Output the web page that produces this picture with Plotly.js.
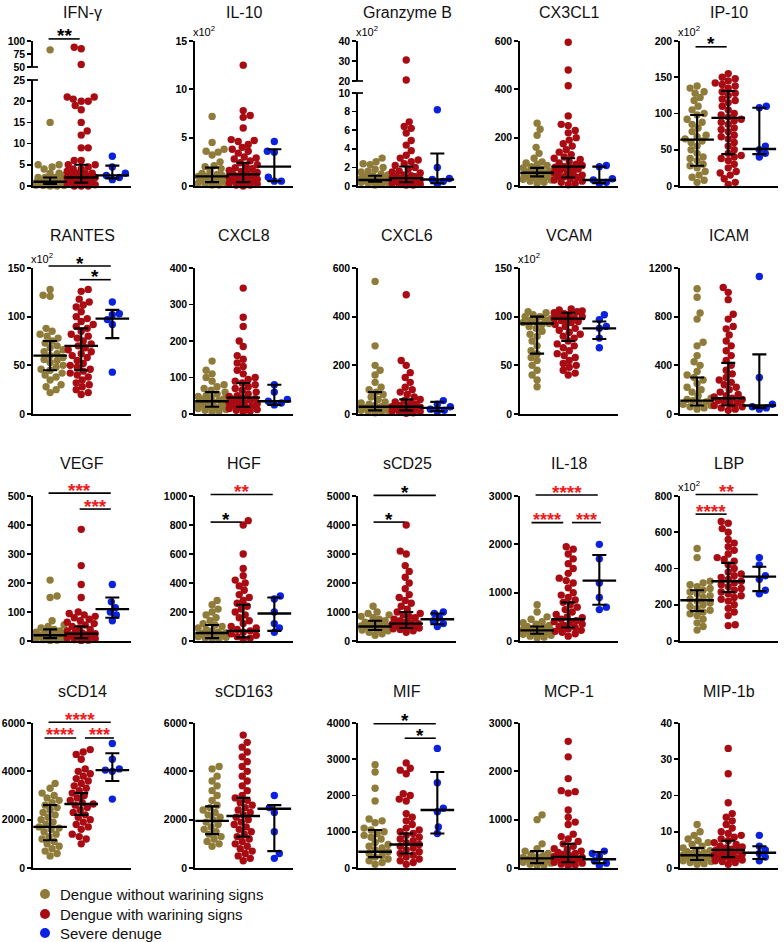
<!DOCTYPE html>
<html>
<head>
<meta charset="utf-8">
<script src="https://cdn.plot.ly/plotly-3.0.1.min.js"></script>
<style>body{margin:0;background:#fff}#chart{width:784px;height:942px}</style>
</head>
<body>
<div id="chart"></div>
<script>
var panels = ['IFN-γ', 'IL-10', 'Granzyme B', 'CX3CL1', 'IP-10',
              'RANTES', 'CXCL8', 'CXCL6', 'VCAM', 'ICAM',
              'VEGF', 'HGF', 'sCD25', 'IL-18', 'LBP',
              'sCD14', 'sCD163', 'MIF', 'MCP-1', 'MIP-1b'];
var groupNames = ['Dengue without warining signs', 'Dengue with warining signs', 'Severe denuge'];
var groupColors = ['#8f7c3a', '#a80b12', '#0a22e0'];

// values, one list per panel
var noWarning = [
  [83,15,5,5,4.5,4,3,3,2.5,2,2,2,1.5,1.5,1.2,1,1,1,1,0.8,0.8,0.6,0.5,0.5,0.4,0.3,0.3,0.2,0.1,0.1,0,0],
  [7.2,4.5,3.8,3.6,3.5,3.2,2.5,2.1,2.0,1.8,1.5,1.3,1.2,1.1,1.0,1.0,0.9,0.8,0.7,0.6,0.5,0.5,0.4,0.3,0.3,0.2,0.1,0.1],
  [3.0,2.6,2.4,2.3,2.0,1.8,1.6,1.5,1.3,1.2,1.1,1.0,0.9,0.9,0.8,0.8,0.7,0.7,0.6,0.6,0.5,0.5,0.4,0.4,0.3,0.3,0.2,0.1],
  [260,235,210,160,135,115,100,95,90,85,80,75,70,65,60,58,55,52,50,48,45,42,40,38,35,30,28,25,20,15,10],
  [138,135,130,128,122,118,110,105,100,98,92,88,85,80,75,70,68,65,62,60,55,50,45,40,38,35,30,28,25,20,15,12,8,5],
  [128,122,121,88,85,82,80,78,75,73,70,68,66,64,62,60,58,56,55,53,50,48,46,45,42,40,38,35,30,28,25,22],
  [145,120,110,100,90,80,75,70,65,60,55,50,48,45,42,40,38,35,33,30,28,25,22,20,18,15,12,10,8,5],
  [545,280,200,180,160,130,110,100,90,80,70,60,50,45,40,35,30,28,25,22,20,18,15,12,10,8,5],
  [105,104,102,100,100,98,97,96,95,94,93,92,90,88,85,82,80,75,70,65,62,58,55,50,45,40,35,28],
  [1030,960,830,780,590,560,480,430,400,350,320,300,280,250,220,200,180,150,130,120,110,100,90,80,70,60,50,40],
  [210,155,150,70,55,50,45,40,35,30,28,25,22,20,18,15,12,10,8,6,5,3,2],
  [280,250,220,200,180,160,140,120,110,100,90,80,70,60,55,50,45,40,35,30,25,20,15,10],
  [1200,1000,950,900,850,800,750,700,650,600,580,550,520,500,480,450,420,400,380,350,300,250,200],
  [750,600,500,450,400,380,350,320,300,280,260,250,240,220,200,180,160,150,140,120,100,80,60],
  [510,460,330,320,310,300,290,280,270,260,250,240,230,220,210,200,190,180,170,160,150,140,120,100,80,60],
  [3500,3300,3100,3000,2900,2800,2700,2600,2500,2400,2300,2200,2100,2000,1900,1800,1700,1650,1600,1500,1400,1300,1200,1100,1000,900,800,700,600,500],
  [4200,4100,3800,3600,3400,3200,3000,2800,2600,2500,2400,2300,2200,2100,2000,1900,1800,1700,1600,1500,1400,1300,1200,1100,1000,900],
  [2850,2650,2200,1850,1350,1300,1250,1100,1050,1000,950,900,850,800,700,650,600,550,500,450,400,350,300,250,200,150,100],
  [1100,1000,500,400,350,300,280,250,230,220,200,180,160,150,140,120,100,80,60,50],
  [12,10,9,8,7.5,7,6.5,6,5.5,5,4.8,4.5,4.2,4,3.8,3.5,3.2,3,2.8,2.5,2.2,2,1.8,1.5,1.2,1]
];
var withWarning = [
  [88,85,55,21,21,20.5,20,20,19,18,15,13,12,9,9,6,6,5,5,4.5,4,4,3.5,3,3,3,2.5,2,2,2,2,1.5,1.5,1,1,1,0.5,0.5,0.5,0.3,0,0,0],
  [12.5,7.8,7.3,7.1,6.0,4.8,4.7,4.6,4.3,4.0,3.8,3.6,3.4,3.0,2.9,2.8,2.6,2.4,2.2,2.0,1.9,1.8,1.6,1.5,1.4,1.3,1.2,1.1,1.0,1.0,0.9,0.8,0.7,0.6,0.5,0.5,0.4,0.3,0.2,0.1,0.1,0.0],
  [30.5,20.5,6.9,6.4,6.2,5.7,4.9,4.4,3.8,3.3,3.0,2.8,2.6,2.4,2.2,2.0,1.8,1.6,1.5,1.4,1.2,1.1,1.0,1.0,0.9,0.8,0.8,0.7,0.6,0.5,0.5,0.4,0.3,0.3,0.2,0.2,0.1,0.1],
  [595,480,415,290,255,250,230,220,200,190,175,165,150,140,130,120,115,110,100,95,90,85,80,78,75,70,65,60,55,50,45,40,38,35,30,25,20,15,10,5],
  [155,150,148,145,142,140,138,135,130,128,125,120,118,115,110,105,100,98,95,92,90,88,85,80,78,75,70,68,65,60,55,50,45,42,40,38,35,30,25,20,18,15,10,5,2],
  [128,126,118,115,112,110,105,100,98,95,92,90,88,85,82,80,78,75,72,70,68,66,64,62,60,58,55,52,50,48,46,44,42,40,38,35,32,30,28,25,22,20],
  [345,265,240,200,185,160,150,140,130,120,110,100,95,90,85,80,75,70,65,60,55,50,48,45,42,40,38,35,32,30,28,25,22,20,18,15,12,10,8,5],
  [490,220,200,170,150,130,110,100,90,80,70,60,55,50,45,40,35,32,30,28,25,22,20,18,15,12,10,8,5,3],
  [108,107,106,105,104,103,102,101,100,99,98,97,96,95,94,92,90,88,86,84,82,80,78,75,72,70,68,65,62,60,58,55,52,50,48,45,42,40],
  [1040,1000,940,820,780,720,700,650,600,560,520,480,440,400,360,330,300,280,260,240,220,200,180,160,150,140,130,120,110,100,90,80,70,60,50,40,30],
  [385,260,195,150,100,95,90,85,80,75,70,65,60,55,50,45,40,35,30,28,25,22,20,18,15,12,10,8,5,3,2],
  [830,800,600,500,450,420,400,380,350,320,300,280,260,240,220,200,180,160,140,120,100,90,80,70,60,50,40,30,20,10],
  [4000,3100,3000,2600,2400,2200,2000,1800,1600,1500,1400,1300,1200,1100,1000,950,900,850,800,750,700,650,620,600,580,550,520,500,480,450,420,400,350,300],
  [1950,1900,1800,1700,1600,1500,1400,1300,1250,1200,1100,1000,950,900,850,800,750,700,650,600,550,500,480,450,420,400,380,350,320,300,280,250,220,200,180,150,100],
  [660,650,620,600,560,540,520,500,480,460,450,440,420,400,380,370,360,350,340,330,320,310,300,290,280,270,260,250,240,230,220,200,180,160,140,90,85],
  [4900,4800,4700,4500,4100,4000,3900,3800,3700,3600,3500,3400,3300,3200,3100,3000,2900,2800,2700,2650,2600,2500,2400,2300,2200,2100,2000,1900,1800,1700,1600,1400,1300,1200,1000],
  [5500,5200,5000,4800,4600,4400,4200,4000,3800,3600,3400,3200,3000,2900,2800,2700,2600,2500,2400,2300,2200,2100,2000,1900,1800,1700,1600,1500,1400,1300,1200,1100,1000,900,800,700,600,500,400,300],
  [2900,2750,2700,2600,2050,2000,1900,1850,1500,1400,1300,1200,1100,1050,1000,950,900,850,800,750,700,650,600,550,500,450,400,350,300,250,200,150,100],
  [2620,2300,1850,1600,1580,1550,1200,1050,950,900,700,650,600,550,500,450,400,380,350,320,300,280,260,240,220,200,180,160,140,120,100,80,60,40],
  [33,26,18,15,14,13,12,11,10,9.5,9,8.5,8,7.5,7,6.5,6,5.8,5.5,5.2,5,4.8,4.5,4.2,4,3.8,3.5,3.2,3,2.8,2.5,2.2,2,1.8,1.5,1]
];
var severe = [
  [7,4.5,3,2.5,2,1.5],
  [4.6,3.6,3.5,0.9,0.5,0.5],
  [8.2,2.0,0.8,0.7,0.5,0.2],
  [85,80,30,25,15,10],
  [110,108,55,50,45,40],
  [115,103,102,97,92,43],
  [80,60,40,35,30,25],
  [55,40,30,20,15,10],
  [102,97,90,88,78,68],
  [1130,300,80,60,50,40],
  [195,135,115,100,90,70],
  [310,290,200,120,90,60],
  [1000,950,800,700,600,500],
  [2000,1700,1200,900,700,650],
  [460,420,360,340,280,260],
  [5150,4500,4100,4050,4000,2850],
  [3000,2500,2300,1500,600,400],
  [3300,2350,1650,1550,1130,950],
  [350,300,250,150,100,50],
  [9,6,5,4,3,2]
];
// median and interquartile range bars per panel: [group1, group2, group3]
var medians = [[1,2,2.5],[1.0,1.2,2.0],[0.65,0.85,0.7],[55,80,25],[64,94,51],
  [60,70,98],[35,45,35],[30,30,25],[93,98,88],[110,130,70],
  [20,25,110],[55,70,190],[500,600,750],[220,450,1250],[225,330,355],
  [1700,2650,4050],[1950,2150,2450],[450,650,1600],[200,230,180],[3.5,5,4.2]];
var lowerQ = [[0.5,0.8,1.8],[0.4,0.4,0.5],[0.45,0.4,0.3],[40,35,12],[28,44,44],
  [45,45,78],[20,20,25],[15,15,12],[62,75,77],[70,70,50],
  [10,10,80],[20,25,70],[380,450,580],[150,280,750],[165,270,275],
  [1150,2200,3600],[1400,1300,700],[300,400,950],[100,120,100],[2.2,3,2.5]];
var upperQ = [[2,5,4.8],[1.9,2.4,3.8],[1.1,2.1,3.5],[75,115,80],[98,131,108],
  [75,88,107],[60,85,80],[90,60,50],[100,104,95],[300,420,490],
  [40,50,150],[110,250,300],[700,1000,950],[300,800,1780],[280,430,410],
  [2600,3100,4750],[2550,2900,2600],[1050,950,2650],[350,500,330],[5.5,7.5,6]];

var yTop = [100,15,40,600,200, 150,400,600,150,1200, 500,1000,5000,3000,800, 6000,6000,4000,3000,40];
var yStep = [25,5,10,200,50, 50,100,200,50,400, 100,200,1000,1000,200, 2000,2000,1000,1000,10];
var times100 = [0,1,1,0,1, 1,0,0,1,0, 0,0,0,0,1, 0,0,0,0,0];

// significance bars: [panel, from group, to group, level, label, red]
var sigBars = [
  [0,1,2,104,'**',0], [4,1,2,192,'*',0],
  [5,1,3,152,'*',0], [5,2,3,138,'*',0],
  [10,1,3,510,'***',1], [10,2,3,455,'***',1],
  [11,1,3,1010,'**',1], [11,1,2,820,'*',0],
  [12,1,3,5020,'*',0], [12,1,2,4100,'*',0],
  [13,1,3,3020,'****',1], [13,1,2,2450,'****',1], [13,2,3,2450,'***',1],
  [14,1,3,808,'**',1], [14,1,2,700,'****',1],
  [15,1,3,6030,'****',1], [15,1,2,5380,'****',1], [15,2,3,5380,'***',1],
  [17,1,3,3980,'*',0], [17,2,3,3580,'*',0]
];

// broken axes (IFN-γ, Granzyme B)
var broken = {
  0: {low: [0, 25], high: [50, 100], lowTicks: [0,5,10,15,20,25], highTicks: [50,75,100], lowTopPx: 80, highBotPx: 67, upper: 21},
  2: {low: [0, 10], high: [20, 40], lowTicks: [0,2,4,6,8,10], highTicks: [20,30,40], lowTopPx: 93, highBotPx: 81, upper: 22}
};

var W = 784, H = 942;
var COLS = [33, 195, 358, 520, 680];
var ROW_TOP = [41, 268, 496, 723];
var ROW_BOT = [186, 414, 641, 868];
var TITLE_Y = [13, 236, 463, 691];
var LEGEND_Y = [894, 914, 933];
var PW = 98, XR = [0.45, 3.6];
var PX_X = PW / (XR[1] - XR[0]);
var FONT = 'Liberation Sans, Arial, sans-serif';

function range(a, b, s) { var r = []; for (var v = a; v <= b + 1e-9; v += s) r.push(v); return r; }

function segments(p) {
  var row = Math.floor(p / 5);
  var b = broken[p];
  if (!b) return [{ax: p + 1, r: [0, yTop[p]], bot: ROW_BOT[row], top: ROW_TOP[row], ticks: range(0, yTop[p], yStep[p])}];
  return [
    {ax: p + 1, r: b.low, bot: ROW_BOT[row], top: b.lowTopPx, ticks: b.lowTicks},
    {ax: b.upper, r: b.high, bot: b.highBotPx, top: ROW_TOP[row], ticks: b.highTicks}
  ];
}
function segFor(segs, v) { return (segs.length > 1 && v > segs[0].r[1]) ? segs[1] : segs[0]; }
function toPx(segs, v) {
  var s = segFor(segs, v);
  return s.bot - (v - s.r[0]) / (s.r[1] - s.r[0]) * (s.bot - s.top);
}

function swarm(py, d, maxOff) {
  var order = py.map(function (v, i) { return i; }).sort(function (a, b) { return py[b] - py[a]; });
  var off = [], done = [];
  order.forEach(function (i, n) {
    var chosen = null, bestScore = -1, bestO = 0;
    var sgn = n % 2 ? 1 : -1;
    for (var k = 0; k <= maxOff && chosen === null; k++) {
      var cands = k === 0 ? [0] : [sgn * k, -sgn * k];
      for (var c = 0; c < cands.length; c++) {
        var o = cands[c], minD = Infinity;
        for (var j = 0; j < done.length; j++) {
          var dy = py[i] - py[done[j]], dx = o - off[done[j]];
          var dist = Math.sqrt(dx * dx + dy * dy);
          if (dist < minD) minD = dist;
        }
        if (minD >= d) { chosen = o; break; }
        if (minD > bestScore) { bestScore = minD; bestO = o; }
      }
    }
    off[i] = chosen !== null ? chosen : bestO;
    done.push(i);
  });
  return off;
}

var data = [];
var layout = {
  width: W, height: H,
  margin: {l: 0, r: 0, t: 0, b: 0, autoexpand: false},
  paper_bgcolor: '#fff', plot_bgcolor: 'rgba(0,0,0,0)',
  showlegend: false,
  shapes: [], annotations: []
};

var axisStyle = {
  showline: true, linecolor: '#000', linewidth: 1.7, showgrid: false, zeroline: false,
  ticks: 'outside', ticklen: 4, tickwidth: 1.7, tickcolor: '#000', fixedrange: true,
  tickfont: {family: FONT, size: 10.5, weight: 'bold', color: '#000'}
};

var groups = [noWarning, withWarning, severe];

panels.forEach(function (name, p) {
  var row = Math.floor(p / 5), col = p % 5;
  var segs = segments(p);
  var xa = 'x' + (p + 1);
  layout['xaxis' + (p + 1)] = {
    domain: [COLS[col] / W, (COLS[col] + PW) / W], range: XR, anchor: 'y' + (p + 1),
    showline: true, linecolor: '#000', linewidth: 1.7, showgrid: false, zeroline: false,
    showticklabels: false, ticks: '', fixedrange: true
  };
  segs.forEach(function (s) {
    var ax = Object.assign({}, axisStyle, {
      domain: [1 - s.bot / H, 1 - s.top / H], range: s.r, anchor: xa,
      tickmode: 'array', tickvals: s.ticks, ticktext: s.ticks.map(String)
    });
    layout['yaxis' + s.ax] = ax;
  });

  groups.forEach(function (grp, g) {
    var vals = grp[p];
    var py = vals.map(function (v) { return toPx(segs, v); });
    var off = swarm(py, 6.6, 14);
    segs.forEach(function (s) {
      var xs = [], ys = [];
      vals.forEach(function (v, i) {
        if (segFor(segs, v) === s) { xs.push(g + 1 + off[i] / PX_X); ys.push(v); }
      });
      data.push({
        type: 'scatter', mode: 'markers', x: xs, y: ys,
        xaxis: xa, yaxis: 'y' + s.ax, cliponaxis: false,
        name: groupNames[g],
        marker: {color: groupColors[g], size: 7.4, line: {width: 0}},
        hoverinfo: 'skip'
      });
    });
  });

  var med = medians[p];
  data.push({
    type: 'scatter', mode: 'markers', x: [1, 2, 3], y: med,
    xaxis: xa, yaxis: 'y' + (p + 1), cliponaxis: false, hoverinfo: 'skip',
    marker: {symbol: 'line-ew-open', size: 24, color: '#000', line: {width: 2.4, color: '#000'}},
    error_y: {type: 'data', symmetric: false,
      array: upperQ[p].map(function (v, i) { return v - med[i]; }),
      arrayminus: lowerQ[p].map(function (v, i) { return med[i] - v; }),
      color: '#000', thickness: 2.1, width: 7}
  });

  // title
  layout.annotations.push({
    xref: 'paper', yref: 'paper', x: (COLS[col] + PW / 2) / W, y: 1 - TITLE_Y[row] / H,
    text: name, showarrow: false, xanchor: 'center', yanchor: 'middle',
    font: {family: FONT, size: 16, color: '#111'}
  });
  if (times100[p]) {
    layout.annotations.push({
      xref: 'paper', yref: 'paper', x: (COLS[col] - 4) / W, y: 1 - (ROW_TOP[row] - 1) / H,
      text: 'x10<sup>2</sup>', showarrow: false, xanchor: 'left', yanchor: 'bottom',
      font: {family: FONT, size: 11, color: '#000'}
    });
  }
  if (broken[p]) {
    [broken[p].lowTopPx, broken[p].highBotPx].forEach(function (ypx) {
      layout.shapes.push({type: 'line', xref: 'paper', yref: 'paper',
        x0: (COLS[col] - 4) / W, x1: (COLS[col] + 5) / W, y0: 1 - ypx / H, y1: 1 - ypx / H,
        line: {color: '#000', width: 1.7}});
    });
  }
});

sigBars.forEach(function (b) {
  var p = b[0], col = p % 5;
  var segs = segments(p);
  var ypx = toPx(segs, b[3]);
  // bars that share a level with another bar in the same panel are shortened
  var shared = sigBars.some(function (o) { return o !== b && o[0] === p && o[3] === b[3]; });
  var a0 = b[1] - 0.05, a1 = b[2] - 0.05;
  if (shared) {
    if (b[2] === 2) { a0 = b[1] - 0.18; a1 = b[2] - 0.16; }
    if (b[1] === 2) { a0 = b[1] + 0.12; a1 = b[2] + 0.05; }
  }
  var x0 = COLS[col] + (a0 - XR[0]) * PX_X;
  var x1 = COLS[col] + (a1 - XR[0]) * PX_X;
  layout.shapes.push({type: 'line', xref: 'paper', yref: 'paper',
    x0: x0 / W, x1: x1 / W, y0: 1 - ypx / H, y1: 1 - ypx / H, line: {color: '#000', width: 1.6}});
  layout.annotations.push({
    xref: 'paper', yref: 'paper', x: (x0 + x1) / 2 / W, y: 1 - ypx / H,
    text: b[4], showarrow: false, xanchor: 'center', yanchor: 'middle', yshift: 3,
    font: {family: FONT, size: shared ? 18 : 19, weight: 'bold', color: b[5] ? '#ee1c1c' : '#000'}
  });
});

// key below the panels
groupNames.forEach(function (name, g) {
  var y = 1 - LEGEND_Y[g] / H;
  layout.shapes.push({type: 'circle', xref: 'paper', yref: 'paper',
    x0: 40 / W, x1: 50 / W, y0: y - 5 / H, y1: y + 5 / H,
    fillcolor: groupColors[g], line: {width: 0}});
  layout.annotations.push({
    xref: 'paper', yref: 'paper', x: 58 / W, y: y, text: name, showarrow: false,
    xanchor: 'left', yanchor: 'middle', font: {family: FONT, size: 15, color: '#111'}
  });
});

Plotly.newPlot('chart', data, layout, {staticPlot: true});
</script>
</body>
</html>
